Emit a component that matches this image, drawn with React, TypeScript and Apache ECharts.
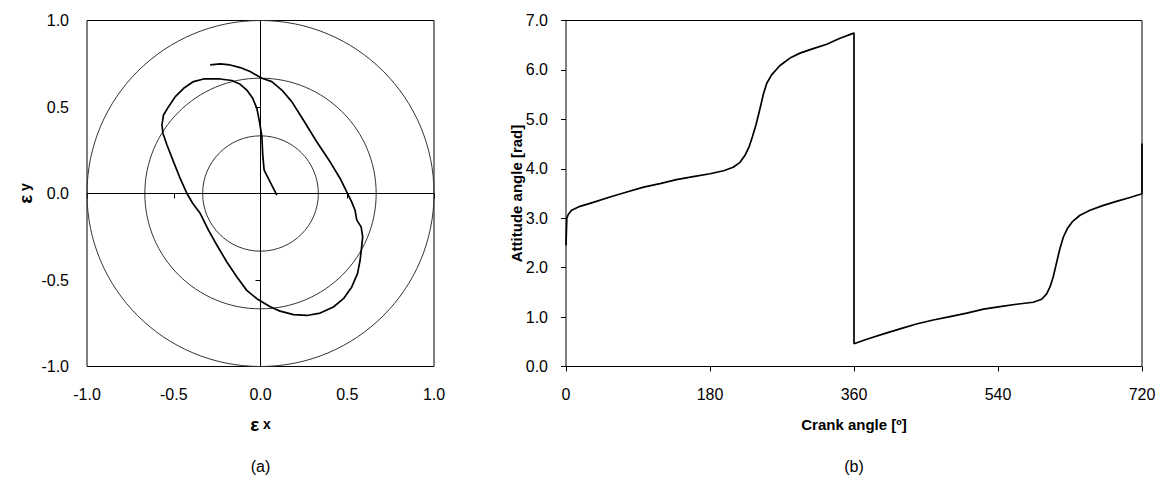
import React, { useEffect, useRef } from "react";
import * as echarts from "echarts";

// ---- Data ----
// (a) journal centre orbit: eccentricity ratios
const eccX = [
  0.094, 0.021, 0.013, 0.008, -0.006, -0.021, -0.045, -0.079, -0.117, -0.165,
  -0.232, -0.328, -0.386, -0.443, -0.491, -0.53, -0.559, -0.568, -0.562, -0.539,
  -0.501, -0.463, -0.424, -0.39, -0.347, -0.3, -0.251, -0.194, -0.136, -0.079,
  -0.021, 0.027, 0.056, 0.113, 0.19, 0.267, 0.344, 0.42, 0.478, 0.526,
  0.559, 0.574, 0.583, 0.589, 0.58, 0.555, 0.545, 0.526, 0.497, 0.459,
  0.401, 0.324, 0.247, 0.18, 0.123, 0.065, 0.008, -0.06, -0.117, -0.175,
  -0.232, -0.29,
];
const eccY = [
  -0.01, 0.135, 0.222, 0.328, 0.415, 0.492, 0.55, 0.598, 0.631, 0.653,
  0.662, 0.662, 0.647, 0.608, 0.56, 0.502, 0.454, 0.396, 0.347, 0.28,
  0.183, 0.087, 0.0, -0.058, -0.116, -0.212, -0.299, -0.396, -0.483, -0.56,
  -0.608, -0.637, -0.655, -0.68, -0.7, -0.705, -0.691, -0.656, -0.608, -0.54,
  -0.463, -0.386, -0.309, -0.251, -0.193, -0.154, -0.097, -0.05, 0.01, 0.087,
  0.183, 0.299, 0.425, 0.531, 0.598, 0.647, 0.666, 0.705, 0.728, 0.743,
  0.749, 0.743,
];
const circleRadii = [1 / 3, 2 / 3, 1];
const eccTicks = [-1.0, -0.5, 0.0, 0.5, 1.0];

// (b) attitude angle vs crank angle
const crankAngle = [
  0, 1, 3, 7, 17.5, 34, 55, 76, 97, 117.5, 138, 159, 180, 197, 209, 217.5, 224,
  229, 233, 237.5, 241, 244, 247, 251, 257, 267.5, 280, 292.5, 309, 326, 342.5,
  359, 360, 360, 376, 397, 417.5, 438, 459, 480, 501, 522, 542.5, 563, 584,
  594.6, 600.8, 605, 609, 612.5, 615.4, 618, 621.7, 626.7, 633, 642.5, 655,
  671.7, 688, 705, 719, 720, 720,
];
const attitudeAngle = [
  2.45, 3.0, 3.08, 3.16, 3.24, 3.32, 3.43, 3.53, 3.63, 3.7, 3.78, 3.84, 3.9,
  3.96, 4.03, 4.13, 4.28, 4.45, 4.65, 4.89, 5.12, 5.32, 5.53, 5.73, 5.9, 6.09,
  6.24, 6.34, 6.43, 6.52, 6.64, 6.74, 6.75, 0.46, 0.55, 0.66, 0.76, 0.86, 0.94,
  1.01, 1.08, 1.16, 1.21, 1.26, 1.3, 1.36, 1.47, 1.61, 1.81, 2.05, 2.25, 2.42,
  2.62, 2.79, 2.93, 3.06, 3.16, 3.26, 3.34, 3.42, 3.49, 3.5, 4.51,
];
const crankTicks = [0, 180, 360, 540, 720];
const attitudeTicks = [0, 1, 2, 3, 4, 5, 6, 7];

const FONT = "Liberation Sans, Arial, sans-serif";

export default function App() {
  const ref = useRef<HTMLDivElement>(null);
  useEffect(() => {
    if (!ref.current) return;
    const chart = echarts.init(ref.current, undefined, { renderer: "svg" });
    const orbit = eccX.map((x, i) => [x, eccY[i]]);
    const attitude = crankAngle.map((x, i) => [x, attitudeAngle[i]]);
    const labelStyle = { color: "#000", fontFamily: FONT, fontSize: 16 };
    const tick = { show: true, length: 5, lineStyle: { color: "#000", width: 1 } };
    chart.setOption({
      animation: false,
      backgroundColor: "#fff",
      grid: [
        { left: 87, top: 20.5, width: 347, height: 346, show: true, borderColor: "#000", borderWidth: 1, backgroundColor: "transparent" },
        { left: 566, top: 20.5, width: 576, height: 346, show: true, borderColor: "#000", borderWidth: 1, backgroundColor: "transparent" },
      ],
      xAxis: [
        {
          gridIndex: 0, type: "value", min: eccTicks[0], max: eccTicks[eccTicks.length - 1], interval: 0.5,
          axisLine: { show: false }, axisTick: tick, splitLine: { show: false },
          axisLabel: { ...labelStyle, margin: 20, formatter: (v: number) => v.toFixed(1) },
        },
        {
          gridIndex: 1, type: "value", min: crankTicks[0], max: crankTicks[crankTicks.length - 1], interval: 180,
          axisLine: { show: false }, axisTick: tick, splitLine: { show: false },
          axisLabel: { ...labelStyle, margin: 20, formatter: (v: number) => String(v) },
        },
      ],
      yAxis: [
        {
          gridIndex: 0, type: "value", min: eccTicks[0], max: eccTicks[eccTicks.length - 1], interval: 0.5,
          axisLine: { show: false }, axisTick: tick, splitLine: { show: false },
          axisLabel: { ...labelStyle, margin: 18, formatter: (v: number) => v.toFixed(1) },
        },
        {
          gridIndex: 1, type: "value", min: attitudeTicks[0], max: attitudeTicks[attitudeTicks.length - 1], interval: 1,
          axisLine: { show: false }, axisTick: tick, splitLine: { show: false },
          axisLabel: { ...labelStyle, margin: 18, formatter: (v: number) => v.toFixed(1) },
        },
      ],
      series: [
        {
          type: "custom",
          xAxisIndex: 0,
          yAxisIndex: 0,
          silent: true,
          data: circleRadii.map((r) => [r]),
          encode: { x: 0 },
          renderItem: (_p: any, api: any) => {
            const c = api.coord([0, 0]);
            const r = api.value(0);
            const s = api.size([r, r]);
            return {
              type: "ellipse",
              shape: { cx: c[0], cy: c[1], rx: s[0], ry: s[1] },
              style: { fill: "none", stroke: "#333", lineWidth: 1 },
            };
          },
        },
        {
          type: "line",
          xAxisIndex: 0,
          yAxisIndex: 0,
          data: orbit,
          showSymbol: false,
          symbol: "none",
          lineStyle: { color: "#000", width: 1.7 },
          markLine: {
            silent: true,
            symbol: "none",
            label: { show: false },
            lineStyle: { color: "#000", width: 1, type: "solid" },
            data: [{ xAxis: 0 }, { yAxis: 0 }],
          },
        },
        {
          type: "line",
          xAxisIndex: 1,
          yAxisIndex: 1,
          data: attitude,
          showSymbol: false,
          symbol: "none",
          lineStyle: { color: "#000", width: 1.7 },
        },
      ],
      graphic: [
        {
          type: "text", x: 260.5, y: 424,
          style: {
            text: "{e|ε}{x| x}", align: "center", verticalAlign: "middle",
            rich: {
              e: { fontFamily: FONT, fontWeight: "bold", fontSize: 19, fill: "#000" },
              x: { fontFamily: FONT, fontWeight: "bold", fontSize: 14, fill: "#000" },
            },
          },
        },
        {
          type: "text", x: 25, y: 193.5, rotation: Math.PI / 2,
          style: {
            text: "{e|ε}{x| y}", align: "center", verticalAlign: "middle",
            rich: {
              e: { fontFamily: FONT, fontWeight: "bold", fontSize: 19, fill: "#000" },
              x: { fontFamily: FONT, fontWeight: "bold", fontSize: 14, fill: "#000" },
            },
          },
        },
        {
          type: "text", x: 260.5, y: 466,
          style: { text: "(a)", align: "center", verticalAlign: "middle", fontFamily: FONT, fontSize: 16, fill: "#000" },
        },
        {
          type: "text", x: 854, y: 424,
          style: { text: "Crank angle [º]", align: "center", verticalAlign: "middle", fontFamily: FONT, fontWeight: "bold", fontSize: 15, fill: "#000" },
        },
        {
          type: "text", x: 516, y: 193.5, rotation: Math.PI / 2,
          style: { text: "Attitude angle [rad]", align: "center", verticalAlign: "middle", fontFamily: FONT, fontWeight: "bold", fontSize: 15, fill: "#000" },
        },
        {
          type: "text", x: 854, y: 466,
          style: { text: "(b)", align: "center", verticalAlign: "middle", fontFamily: FONT, fontSize: 16, fill: "#000" },
        },
      ],
    });
    return () => chart.dispose();
  }, []);
  return (
    <div
      ref={ref}
      style={{ position: "fixed", left: 0, top: 0, width: 1165, height: 477, background: "#fff" }}
    />
  );
}
